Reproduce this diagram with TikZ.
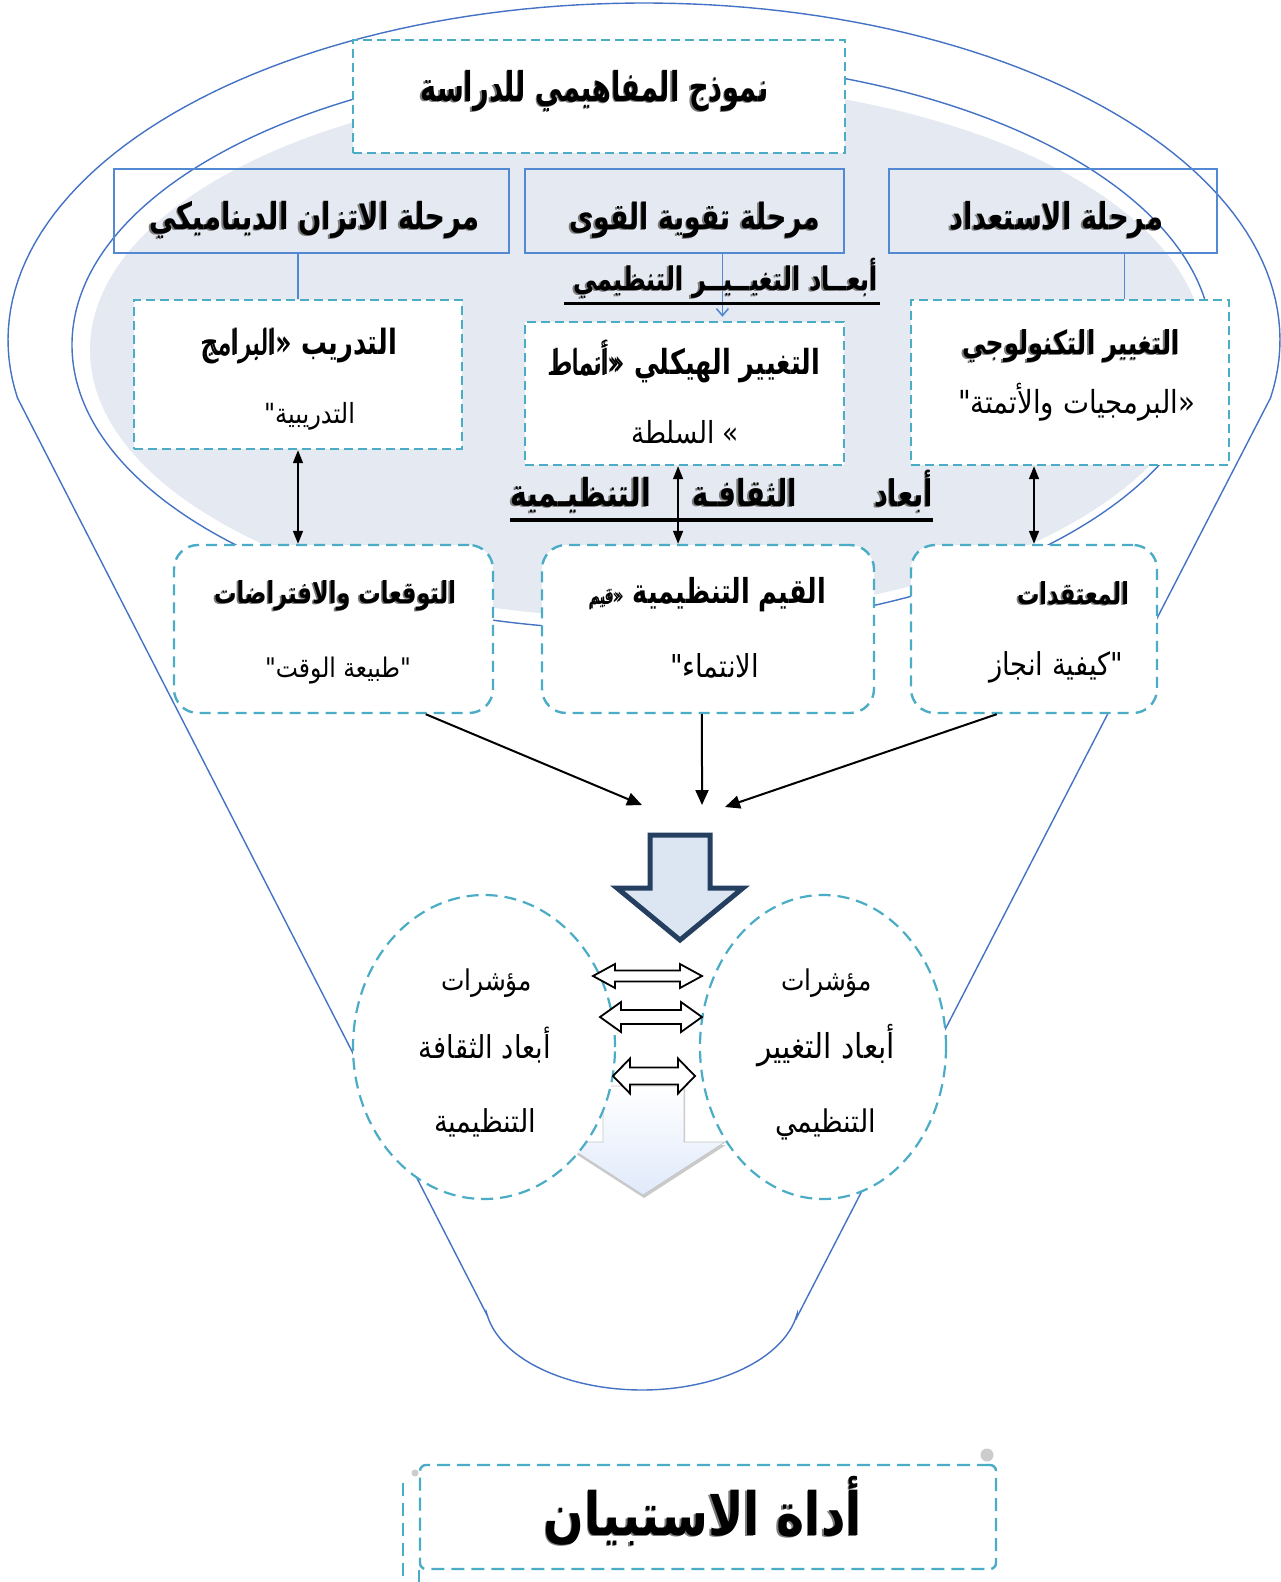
\documentclass[tikz,border=0pt]{standalone}
\usepackage{fontspec}
\usepackage{graphicx}
\usetikzlibrary{shapes.geometric,arrows.meta,calc,shadows}
\newfontfamily\arr[Script=Arabic]{DejaVu Sans}
\TeXXeTstate=1

\definecolor{lineblue}{RGB}{68,114,196}
\definecolor{stageblue}{RGB}{83,136,210}
\definecolor{dashteal}{RGB}{75,172,198}
\definecolor{haze}{RGB}{228,233,242}
\definecolor{navy}{RGB}{36,63,96}
\definecolor{arrowfill}{RGB}{220,230,242}
\definecolor{palefill}{RGB}{224,234,251}
\definecolor{shadowgray}{RGB}{125,125,125}

% regular-weight part of a bold line; blank in the shadow copy
\newif\ifshadowcopy
\newcommand\regpart[1]{\ifshadowcopy{\mdseries\color{white}#1}\else{\mdseries#1}\fi}
% text scaled to a given width, then stretched upright
\newcommand\fitR[3]{\scalebox{1}[#1]{\resizebox{#2pt}{!}{#3}}}
% bold line with a soft shadow: [stretch] name, x, baseline, width, text
\newcommand\boldline[6][1.35]{%
  \node[txt,text=shadowgray] at (#3-1.6,#4+1.6) {\shadowcopytrue\fitR{#1}{#5}{#6}};
  \node[txt] (#2) at (#3,#4) {\fitR{#1}{#5}{#6}};}
% regular line: [stretch] name, x, baseline, width, text
\newcommand\plainline[6][1.15]{%
  \node[txt,font=\arr\mdseries\fontsize{20}{24}\selectfont] (#2) at (#3,#4) {\fitR{#1}{#5}{#6}};}
% white two-headed block arrow: x left tip, x right tip, y, head half height, shaft half height, head length
\newcommand\twoway[6]{%
  \draw[twoway] (#1,#3) -- (#1+#6,#3-#4) -- (#1+#6,#3-#5) -- (#2-#6,#3-#5) -- (#2-#6,#3-#4)
    -- (#2,#3) -- (#2-#6,#3+#4) -- (#2-#6,#3+#5) -- (#1+#6,#3+#5) -- (#1+#6,#3+#4) -- cycle;}

\tikzset{
  funnel/.style={draw=lineblue, line width=1.4pt},
  titlebox/.style={draw=dashteal, dash pattern=on 9pt off 5pt, line width=2.4pt, fill=white, inner sep=0pt},
  stage/.style={draw=stageblue, line width=2.4pt, inner sep=0pt},
  dimbox/.style={draw=dashteal, dash pattern=on 9pt off 5pt, line width=2.4pt, fill=white, inner sep=0pt},
  culture/.style={draw=dashteal, dash pattern=on 11pt off 7pt, line width=2.4pt, fill=white, inner sep=0pt, rounded corners=24pt},
  indicator/.style={ellipse, draw=dashteal, dash pattern=on 12pt off 7pt, line width=2.2pt, fill=white, inner sep=0pt},
  toolbox/.style={draw=dashteal, dash pattern=on 13pt off 7pt, line width=2.4pt, inner sep=0pt, rounded corners=6pt},
  stagelink/.style={draw=stageblue, line width=1.6pt},
  link/.style={{Triangle[length=13pt,width=10pt]}-{Triangle[length=13pt,width=10pt]}, line width=1.6pt},
  feed/.style={-{Triangle[length=15pt,width=13pt]}, line width=2pt},
  twoway/.style={draw=black, fill=white, line width=1.8pt, line join=miter},
  navyarrow/.style={draw=navy, fill=arrowfill, line width=5pt, line join=miter},
  palearrow/.style={draw=gray!45, line width=0.8pt, top color=white, bottom color=palefill,
    drop shadow={shadow xshift=1pt, shadow yshift=-3pt, opacity=0.35, fill=black!60}},
  txt/.style={anchor=base, inner sep=0pt, font=\arr\bfseries\fontsize{20}{24}\selectfont},
}

\begin{document}
\begin{tikzpicture}[x=1pt, y=-1pt]
\useasboundingbox (0,0) rectangle (1281,1582);

% background haze and funnel outline
\fill[haze] (647,350) ellipse [x radius=557pt, y radius=268pt];
\draw[funnel] (487,1315)
  -- plot[domain=0:199.8, samples=120] ({644+636*cos(189.9-\x)}, {340-337*sin(189.9-\x)})
  -- (797,1317)
  -- plot[domain=9:171, samples=60] ({642+157*cos(\x)}, {1300+90*sin(\x)})
  -- cycle;
\draw[funnel] (642,345) ellipse [x radius=570pt, y radius=285pt];

% title
\node[titlebox, minimum width=492pt, minimum height=113pt] (title) at (599,96.5) {};

% stages
\node[stage, minimum width=395pt, minimum height=84pt] (s1) at (311.5,211) {};
\node[stage, minimum width=319pt, minimum height=84pt] (s2) at (684.5,211) {};
\node[stage, minimum width=328pt, minimum height=84pt] (s3) at (1053,211) {};

% dimensions of organizational change
\node[dimbox, minimum width=328pt, minimum height=149pt] (d1) at (298,374.5) {};
\node[dimbox, minimum width=319pt, minimum height=143pt] (d2) at (684.5,393.5) {};
\node[dimbox, minimum width=318pt, minimum height=165pt] (d3) at (1070,382.5) {};

\coordinate (k1) at ($(s2.south west)!0.618!(s2.south east)$);
\coordinate (k3) at ($(s3.south west)!0.716!(s3.south east)$);
\draw[stagelink] (d1.north |- s1.south) -- (d1.north);
\draw[stagelink, -{Straight Barb[length=7pt,width=12pt]}, shorten >=4pt] (k1) -- (k1 |- d2.north);
\draw[stagelink] (k3) -- (k3 |- d3.north);

% dimensions of organizational culture
\node[culture, minimum width=319pt, minimum height=168pt] (r1) at (333.5,629) {};
\node[culture, minimum width=332pt, minimum height=168pt] (r2) at (708,629) {};
\node[culture, minimum width=246pt, minimum height=168pt] (r3) at (1034,629) {};

\coordinate (k2) at ($(d2.south west)!0.48!(d2.south east)$);
\draw[link] (d1.south) -- (d1.south |- r1.north);
\draw[link] (k2) -- (k2 |- r2.north);
\draw[link] (r3.north |- d3.south) -- (r3.north);

% converging arrows
\coordinate (m1) at (642,805);
\coordinate (m2) at (702,805);
\coordinate (m3) at (725,807);
\draw[feed] ($(r1.south west)!0.787!(r1.south east)$) -- (m1);
\draw[feed] ($(r2.south west)!0.482!(r2.south east)$) -- (m2);
\draw[feed] ($(r3.south west)!0.35!(r3.south east)$) -- (m3);

% block arrows
\draw[navyarrow] (650,835) -- (710,835) -- (710,888) -- (743,888) -- (680,940) -- (617,888) -- (650,888) -- cycle;
\draw[palearrow] (603,1086) -- (684,1086) -- (684,1142) -- (725,1142) -- (643,1195) -- (561,1142) -- (603,1142) -- cycle;

% indicator ellipses
\node[indicator, minimum width=262pt, minimum height=304pt] (c1) at (484,1047) {};
\node[indicator, minimum width=246pt, minimum height=304pt] (c2) at (823,1047) {};

\twoway{593}{702}{976}{12}{5.5}{22}
\twoway{600}{702}{1017}{15}{7}{21}
\twoway{613}{695}{1076}{17.5}{8.5}{17}

% questionnaire box
\node[toolbox, minimum width=576pt, minimum height=104pt] (tool) at (708,1517) {};
\draw[toolbox, rounded corners=0pt] (tool.south west) -- ++(0,13);
\draw[toolbox, rounded corners=0pt] (403,1483) -- (403,1582);
\fill[gray!40] (415,1473) circle [radius=3.5pt];
\fill[gray!40] (987,1455) circle [radius=6.5pt];

% texts
\boldline[1.5]{ttitle}{594.5}{101}{348}{\beginR نموذج المفاهيمي للدراسة\endR}
\boldline{ts1}{314.5}{229}{331}{\beginR مرحلة الاتزان الديناميكي\endR}
\boldline{ts2}{694.5}{229}{251}{\beginR مرحلة تقوية القوى\endR}
\boldline{ts3}{1056}{229}{214}{\beginR مرحلة الاستعداد\endR}

\boldline{h1}{725.5}{290}{305}{\beginR أبعــاد التغيــيــر التنظيمي\endR}
\draw[line width=3pt] ($(h1.base)+(-161.5,13)$) -- ($(h1.base)+(154.5,13)$);

\boldline{td1a}{299.5}{354}{195}{\beginR التدريب \regpart{«البرامج}\endR}
\plainline{td1b}{309.5}{423}{91}{\beginR التدريبية"\endR}
\boldline{td2a}{684.5}{374}{271}{\beginR التغيير الهيكلي \regpart{«أنماط}\endR}
\plainline{td2b}{685}{443}{108}{\beginR » السلطة\endR}
\boldline{td3a}{1071}{354}{218}{\beginR التغيير التكنولوجي\endR}
\plainline{td3b}{1076.5}{413}{237}{\beginR «البرمجيات والأتمتة"\endR}

\boldline{h2a}{903.5}{506}{59}{\beginR أبعاد\endR}
\boldline{h2b}{744.5}{506}{105}{\beginR الثقافـة\endR}
\boldline{h2c}{580.5}{506}{141}{\beginR التنظيـمية\endR}
\draw[line width=4pt] (h2c.base -| 510,0) ++(0,14) -- ++(423,0);

\boldline{tr1a}{335}{603}{242}{\beginR التوقعات والافتراضات\endR}
\plainline{tr1b}{338}{677}{146}{\beginR "طبيعة الوقت"\endR}
\boldline{tr2a}{708}{603}{236}{\beginR القيم التنظيمية \regpart{{\fontsize{13}{15}\selectfont«قيم}}\endR}
\plainline{tr2b}{714.5}{677}{89}{\beginR الانتماء"\endR}
\boldline{tr3a}{1073}{604}{112}{\beginR المعتقدات\endR}
\plainline{tr3b}{1056}{675}{134}{\beginR "كيفية انجاز\endR}

\plainline{tc1a}{486.5}{990}{91}{\beginR مؤشرات\endR}
\plainline{tc1b}{485}{1058}{132}{\beginR أبعاد الثقافة\endR}
\plainline{tc1c}{485}{1132}{102}{\beginR التنظيمية\endR}
\plainline{tc2a}{826.5}{990}{91}{\beginR مؤشرات\endR}
\plainline{tc2b}{826}{1058}{138}{\beginR أبعاد التغيير\endR}
\plainline{tc2c}{825.5}{1132}{101}{\beginR التنظيمي\endR}

\boldline[1.25]{ttool}{703}{1535}{318}{\beginR أداة الاستبيان\endR}
\end{tikzpicture}
\end{document}
